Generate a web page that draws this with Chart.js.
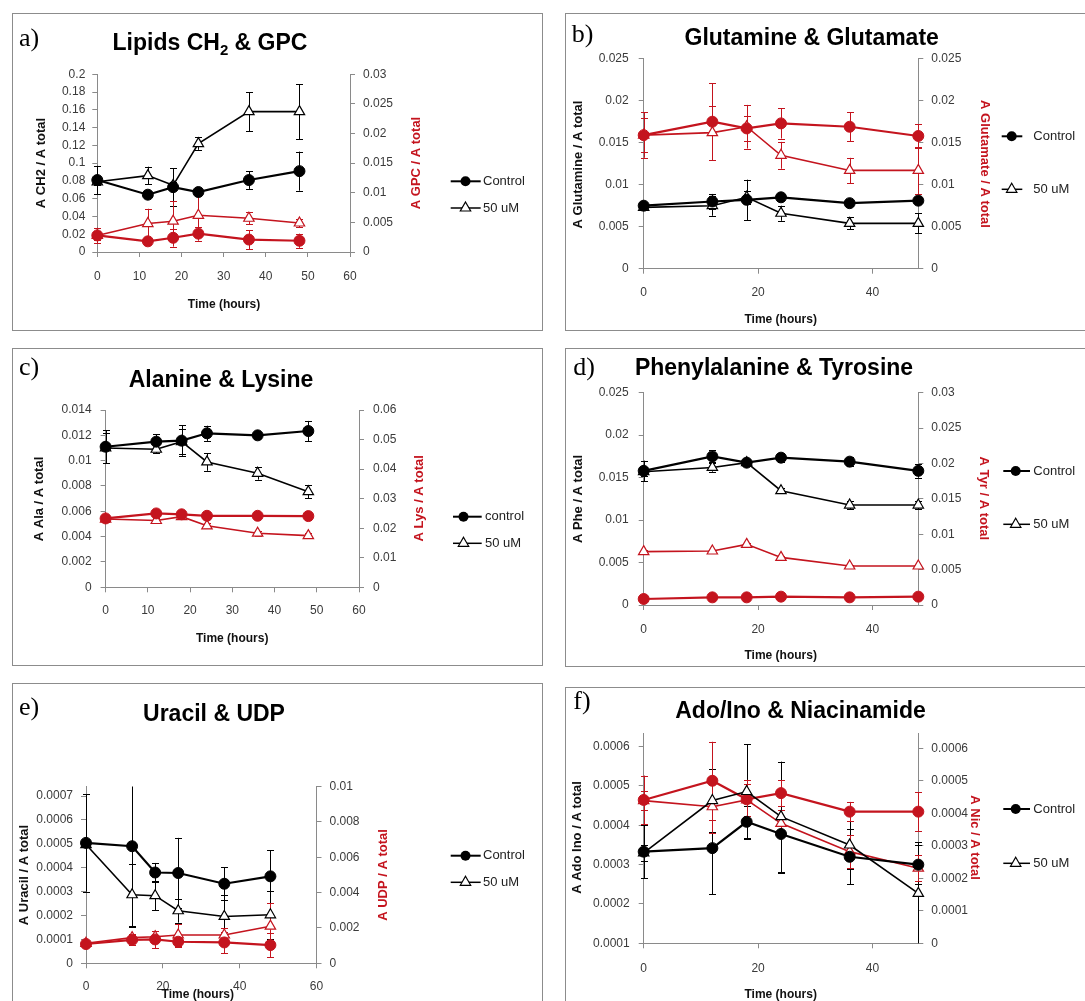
<!DOCTYPE html>
<html>
<head>
<meta charset="utf-8">
<script src="https://cdn.jsdelivr.net/npm/chart.js@4.4.1/dist/chart.umd.min.js"></script>
<style>
html,body{margin:0;padding:0;background:#fff;}
body{position:relative;width:1085px;height:1001px;overflow:hidden;}
.frame{position:absolute;box-sizing:border-box;border:1px solid #8c8c8c;}
canvas{position:absolute;}
</style>
</head>
<body>
<script>
// ================= DATA =================
const times = [0, 12, 18, 24, 36, 48];
const xTicksWide = [0, 10, 20, 30, 40, 50, 60];
const xTicksNarrow = [0, 20, 40];
const xTicksE = [0, 20, 40, 60];
const xTitle = 'Time (hours)';
const legendNames = ['Control', '50 uM'];
const legendNamesC = ['control', '50 uM'];

// a) Lipids CH2 & GPC
const titleA = ['Lipids CH', '2', ' & GPC'];
const yTitleA = 'A CH2 / A total';
const y2TitleA = 'A GPC / A total';
const xRangeA = [0, 60];
const yRangeA = [0, 0.2];
const y2RangeA = [0, 0.03];
const yTicksA = [0, 0.02, 0.04, 0.06, 0.08, 0.1, 0.12, 0.14, 0.16, 0.18, 0.2];
const y2TicksA = [0, 0.005, 0.01, 0.015, 0.02, 0.025, 0.03];
const ch2Control = [0.081, 0.0645, 0.073, 0.0675, 0.081, 0.091];
const ch2ControlErr = [0.016, 0.003, 0.021, 0.003, 0.010, 0.022];
const ch2Treated = [0.079, 0.086, 0.075, 0.122, 0.158, 0.158];
const ch2TreatedErr = [0.004, 0.010, 0.004, 0.007, 0.022, 0.031];
const gpcControl = [0.0028, 0.0018, 0.0024, 0.0031, 0.0021, 0.0019];
const gpcControlErr = [0.0013, 0.0004, 0.0015, 0.0012, 0.0016, 0.0012];
const gpcTreated = [0.0028, 0.0048, 0.0052, 0.0062, 0.0057, 0.0049];
const gpcTreatedErr = [0.0007, 0.0025, 0.0034, 0.0035, 0.0010, 0.0007];

// b) Glutamine & Glutamate
const titleB = ['Glutamine & Glutamate'];
const yTitleB = 'A Glutamine / A total';
const y2TitleB = 'A Glutamate / A total';
const xRangeB = [0, 48];
const yRangeB = [0, 0.025];
const y2RangeB = [0, 0.025];
const yTicksB = [0, 0.005, 0.01, 0.015, 0.02, 0.025];
const y2TicksB = [0, 0.005, 0.01, 0.015, 0.02, 0.025];
const glnControl = [0.0075, 0.0080, 0.0082, 0.0085, 0.0078, 0.0081];
const glnControlErr = [0.0003, 0.0009, 0.0024, 0.0003, 0.0003, 0.0004];
const glnTreated = [0.0073, 0.0075, 0.0085, 0.0066, 0.0054, 0.0054];
const glnTreatedErr = [0.0003, 0.0012, 0.0008, 0.0009, 0.0007, 0.0012];
const gluControl = [0.0159, 0.0175, 0.0167, 0.0173, 0.0169, 0.0158];
const gluControlErr = [0.0020, 0.0046, 0.0015, 0.0018, 0.0017, 0.0014];
const gluTreated = [0.0159, 0.0162, 0.0169, 0.0135, 0.0117, 0.0117];
const gluTreatedErr = [0.0027, 0.0032, 0.0026, 0.0016, 0.0015, 0.0028];

// c) Alanine & Lysine
const titleC = ['Alanine & Lysine'];
const yTitleC = 'A Ala / A total';
const y2TitleC = 'A Lys / A total';
const xRangeC = [0, 60];
const yRangeC = [0, 0.014];
const y2RangeC = [0, 0.06];
const yTicksC = [0, 0.002, 0.004, 0.006, 0.008, 0.01, 0.012, 0.014];
const y2TicksC = [0, 0.01, 0.02, 0.03, 0.04, 0.05, 0.06];
const alaControl = [0.0111, 0.0115, 0.01158, 0.01216, 0.0120, 0.01234];
const alaControlErr = [0.0013, 0.0006, 0.0012, 0.0006, 0.0002, 0.0008];
const alaTreated = [0.0110, 0.0109, 0.0115, 0.0099, 0.0090, 0.00755];
const alaTreatedErr = [0.0012, 0.0003, 0.0010, 0.0007, 0.0005, 0.0005];
const lysControl = [0.0233, 0.0250, 0.0247, 0.0242, 0.0242, 0.0241];
const lysControlErr = [0.0012, 0.0010, 0.0010, 0.0008, 0.0008, 0.0012];
const lysTreated = [0.0231, 0.0226, 0.0239, 0.0208, 0.0183, 0.0175];
const lysTreatedErr = [0.0010, 0.0010, 0.0008, 0.0008, 0.0008, 0.0008];

// d) Phenylalanine & Tyrosine
const titleD = ['Phenylalanine & Tyrosine'];
const yTitleD = 'A Phe / A total';
const y2TitleD = 'A Tyr / A total';
const xRangeD = [0, 48];
const yRangeD = [0, 0.025];
const y2RangeD = [0, 0.03];
const yTicksD = [0, 0.005, 0.01, 0.015, 0.02, 0.025];
const y2TicksD = [0, 0.005, 0.01, 0.015, 0.02, 0.025, 0.03];
const pheControl = [0.0158, 0.0175, 0.01676, 0.01735, 0.01688, 0.0158];
const pheControlErr = [0.0012, 0.0007, 0.0003, 0.0005, 0.0005, 0.0008];
const pheTreated = [0.0157, 0.0162, 0.01676, 0.01346, 0.01177, 0.01177];
const pheTreatedErr = [0.0005, 0.0005, 0.0003, 0.0003, 0.0005, 0.0005];
const tyrControl = [0.00085, 0.00108, 0.00108, 0.00118, 0.00108, 0.00118];
const tyrControlErr = [0.0001, 0.0001, 0.0001, 0.0001, 0.0001, 0.0001];
const tyrTreated = [0.00754, 0.00763, 0.00857, 0.00673, 0.00551, 0.00551];
const tyrTreatedErr = [0.0002, 0.0002, 0.0002, 0.0002, 0.0002, 0.0002];

// e) Uracil & UDP
const titleE = ['Uracil & UDP'];
const yTitleE = 'A Uracil / A total';
const y2TitleE = 'A UDP / A total';
const xRangeE = [0, 60];
const yRangeE = [0, 0.00074];
const y2RangeE = [0, 0.01];
const yTicksE = [0, 0.0001, 0.0002, 0.0003, 0.0004, 0.0005, 0.0006, 0.0007];
const y2TicksE = [0, 0.002, 0.004, 0.006, 0.008, 0.01];
const uraControl = [0.000504, 0.00049, 0.00038, 0.000378, 0.000333, 0.000364];
const uraControlErr = [0.000204, 0.00034, 0.00004, 0.000147, 0.00007, 0.00011];
const uraTreated = [0.000497, 0.000287, 0.000283, 0.00022, 0.000196, 0.000203];
const uraTreatedErr = [0.00001, 0.00013, 0.00006, 0.00005, 0.00009, 0.0001];
const udpControl = [0.00109, 0.00132, 0.00135, 0.00122, 0.00118, 0.00103];
const udpControlErr = [0.0001, 0.0003, 0.0005, 0.0003, 0.0006, 0.0007];
const udpTreated = [0.00113, 0.00145, 0.0015, 0.0016, 0.0016, 0.0021];
const udpTreatedErr = [0.0001, 0.0002, 0.0003, 0.0006, 0.0004, 0.0013];

// f) Ado/Ino & Niacinamide
const titleF = ['Ado/Ino & Niacinamide'];
const yTitleF = 'A Ado Ino / A total';
const y2TitleF = 'A Nic / A total';
const xRangeF = [0, 48];
const yRangeF = [0.0001, 0.000634];
const y2RangeF = [0, 0.000646];
const yTicksF = [0.0001, 0.0002, 0.0003, 0.0004, 0.0005, 0.0006];
const y2TicksF = [0, 0.0001, 0.0002, 0.0003, 0.0004, 0.0005, 0.0006];
const adoControl = [0.000333, 0.000342, 0.000409, 0.000378, 0.00032, 0.0003];
const adoControlErr = [0.000068, 0.000117, 0.00004, 0.0001, 0.00007, 0.00005];
const adoTreated = [0.00033, 0.000463, 0.000486, 0.000422, 0.00035, 0.000227];
const adoTreatedErr = [0.00002, 0.00008, 0.00012, 0.00014, 0.00006, 0.00013];
const nicControl = [0.000441, 0.0005, 0.000443, 0.000462, 0.000405, 0.000405];
const nicControlErr = [0.000075, 0.00012, 0.00006, 0.00004, 0.00003, 0.00006];
const nicTreated = [0.000439, 0.00042, 0.000441, 0.000369, 0.000282, 0.000231];
const nicTreatedErr = [0.00003, 0.00008, 0.00005, 0.00004, 0.00005, 0.00004];

// ================= STYLE / LAYOUT =================
const RED = 'rgb(196,20,30)';
const BLACK = '#000000';
const AXIS = '#8a8a8a';
const TICKCOL = '#3a3a3a';
const SANS = '"Liberation Sans", Arial, sans-serif';
const SERIF = '"Liberation Serif", "Times New Roman", serif';

// all coordinates are page pixels
const panels = [
  { letter: 'a)', title: titleA, yTitle: yTitleA, y2Title: y2TitleA, legend: legendNames,
    xRange: xRangeA, yRange: yRangeA, y2Range: y2RangeA, xTicks: xTicksWide, yTicks: yTicksA, y2Ticks: y2TicksA,
    left: [ch2Control, ch2ControlErr, ch2Treated, ch2TreatedErr],
    right: [gpcControl, gpcControlErr, gpcTreated, gpcTreatedErr],
    box: [12, 13, 531, 318], plot: [97.3, 350, 74.3, 252], pad: [7, 8, 12],
    pLetter: [19, 39.5], pTitle: [210, 44], pYT: [41, 163, -1], pY2T: [416, 163, -1], pXT: [224, 304.7],
    pLeg: { x1: 450.7, x2: 480.7, mx: 465.5, tx: 483, y: [181.3, 208] } },
  { letter: 'b)', title: titleB, yTitle: yTitleB, y2Title: y2TitleB, legend: legendNames,
    xRange: xRangeB, yRange: yRangeB, y2Range: y2RangeB, xTicks: xTicksNarrow, yTicks: yTicksB, y2Ticks: y2TicksB,
    left: [glnControl, glnControlErr, glnTreated, glnTreatedErr],
    right: [gluControl, gluControlErr, gluTreated, gluTreatedErr],
    box: [565, 13, 530, 318], plot: [643.7, 918.3, 58.7, 268.7], pad: [10, 8, 12],
    pLetter: [571.7, 35.3], pTitle: [811.7, 38.7], pYT: [578.3, 164.5, -1], pY2T: [984.3, 164, 1], pXT: [780.7, 319.3],
    pLeg: { x1: 1001.7, x2: 1022.3, mx: 1011.7, tx: 1033.3, y: [136.3, 189.3] } },
  { letter: 'c)', title: titleC, yTitle: yTitleC, y2Title: y2TitleC, legend: legendNamesC,
    xRange: xRangeC, yRange: yRangeC, y2Range: y2RangeC, xTicks: xTicksWide, yTicks: yTicksC, y2Ticks: y2TicksC,
    left: [alaControl, alaControlErr, alaTreated, alaTreatedErr],
    right: [lysControl, lysControlErr, lysTreated, lysTreatedErr],
    box: [12, 348, 531, 318], plot: [105.6, 359, 410, 587.3], pad: [9, 9, 11],
    pLetter: [19, 368.3], pTitle: [221, 381], pYT: [39.5, 499, -1], pY2T: [419, 498.3, -1], pXT: [232.2, 639],
    pLeg: { x1: 453, x2: 481.7, mx: 463.5, tx: 485, y: [516.7, 543.3] } },
  { letter: 'd)', title: titleD, yTitle: yTitleD, y2Title: y2TitleD, legend: legendNames,
    xRange: xRangeD, yRange: yRangeD, y2Range: y2RangeD, xTicks: xTicksNarrow, yTicks: yTicksD, y2Ticks: y2TicksD,
    left: [pheControl, pheControlErr, pheTreated, pheTreatedErr],
    right: [tyrControl, tyrControlErr, tyrTreated, tyrTreatedErr],
    box: [565, 348, 530, 319], plot: [643.7, 918.3, 392.7, 605], pad: [10, 8, 12],
    pLetter: [573.3, 368.3], pTitle: [774, 368.3], pYT: [578.3, 499, -1], pY2T: [983.3, 498.3, 1], pXT: [780.7, 655.7],
    pLeg: { x1: 1003.3, x2: 1030, mx: 1015.7, tx: 1033.3, y: [471, 524.3] } },
  { letter: 'e)', title: titleE, yTitle: yTitleE, y2Title: y2TitleE, legend: legendNames,
    xRange: xRangeE, yRange: yRangeE, y2Range: y2RangeE, xTicks: xTicksE, yTicks: yTicksE, y2Ticks: y2TicksE,
    left: [uraControl, uraControlErr, uraTreated, uraTreatedErr],
    right: [udpControl, udpControlErr, udpTreated, udpTreatedErr],
    box: [12, 683, 531, 330], plot: [86, 316.5, 786.5, 963.3], pad: [8, 8, 11],
    pLetter: [19, 708.3], pTitle: [214, 715], pYT: [24, 875, -1], pY2T: [383.6, 875, -1], pXT: [197.8, 995],
    pLeg: { x1: 450.7, x2: 480.7, mx: 465.5, tx: 483, y: [855.7, 882.3] } },
  { letter: 'f)', title: titleF, yTitle: yTitleF, y2Title: y2TitleF, legend: legendNames,
    xRange: xRangeF, yRange: yRangeF, y2Range: y2RangeF, xTicks: xTicksNarrow, yTicks: yTicksF, y2Ticks: y2TicksF,
    left: [adoControl, adoControlErr, adoTreated, adoTreatedErr],
    right: [nicControl, nicControlErr, nicTreated, nicTreatedErr],
    box: [565, 687, 530, 330], plot: [643.7, 918.3, 733.3, 943.3], pad: [9, 8, 13],
    pLetter: [573.3, 701.7], pTitle: [800.5, 711.7], pYT: [577.7, 837.5, -1], pY2T: [974.3, 837.5, 1], pXT: [780.7, 995],
    pLeg: { x1: 1003.3, x2: 1030, mx: 1015.7, tx: 1033.3, y: [809, 863.3] } }
];

// ================= DRAWING =================
const errorBarPlugin = {
  id: 'errorBars',
  beforeDatasetsDraw(chart) {
    const ctx = chart.ctx;
    const area = chart.chartArea;
    chart.data.datasets.forEach((ds) => {
      if (!ds.errors) return;
      const xs = chart.scales.x;
      const ys = chart.scales[ds.yAxisID];
      ctx.save();
      ctx.strokeStyle = ds.borderColor;
      ctx.lineWidth = 1;
      ds.data.forEach((p, i) => {
        const e = ds.errors[i];
        if (!e) return;
        const x = Math.round(xs.getPixelForValue(p.x)) + 0.5;
        let yt = ys.getPixelForValue(p.y + e);
        let yb = ys.getPixelForValue(p.y - e);
        const clipT = yt < area.top, clipB = yb > area.bottom;
        yt = Math.max(yt, area.top);
        yb = Math.min(yb, area.bottom);
        ctx.beginPath();
        ctx.moveTo(x, yt); ctx.lineTo(x, yb);
        if (!clipT) { ctx.moveTo(x - 3.5, Math.round(yt) + 0.5); ctx.lineTo(x + 3.5, Math.round(yt) + 0.5); }
        if (!clipB) { ctx.moveTo(x - 3.5, Math.round(yb) + 0.5); ctx.lineTo(x + 3.5, Math.round(yb) + 0.5); }
        ctx.stroke();
      });
      ctx.restore();
    });
  }
};

function drawTriangle(ctx, x, y, r) {
  let rad = 0;
  ctx.beginPath();
  ctx.moveTo(x + Math.sin(rad) * r, y - Math.cos(rad) * r);
  rad += Math.PI * 2 / 3;
  ctx.lineTo(x + Math.sin(rad) * r, y - Math.cos(rad) * r);
  rad += Math.PI * 2 / 3;
  ctx.lineTo(x + Math.sin(rad) * r, y - Math.cos(rad) * r);
  ctx.closePath();
}

function textPlugin(P) {
  return {
    id: 'panelText',
    afterDraw(chart) {
      const ctx = chart.ctx;
      const ox = P.box[0], oy = P.box[1];
      ctx.save();
      ctx.fillStyle = '#000';
      ctx.textBaseline = 'middle';
      // panel letter
      ctx.font = '26px ' + SERIF;
      ctx.textAlign = 'left';
      ctx.fillText(P.letter, P.pLetter[0] - ox, P.pLetter[1] - oy);
      // title (with optional subscript part)
      const bigFont = 'bold 23px ' + SANS, subFont = 'bold 15px ' + SANS;
      let total = 0;
      P.title.forEach((t, i) => { ctx.font = (i === 1) ? subFont : bigFont; total += ctx.measureText(t).width; });
      let cx = P.pTitle[0] - ox - total / 2;
      P.title.forEach((t, i) => {
        ctx.font = (i === 1) ? subFont : bigFont;
        ctx.fillText(t, cx, P.pTitle[1] - oy + (i === 1 ? 7 : 0));
        cx += ctx.measureText(t).width;
      });
      // axis titles
      ctx.font = 'bold 13px ' + SANS;
      ctx.textAlign = 'center';
      const rot = (txt, pos, color) => {
        ctx.save();
        ctx.fillStyle = color;
        ctx.translate(pos[0] - ox, pos[1] - oy);
        ctx.rotate(pos[2] * Math.PI / 2);
        ctx.fillText(txt, 0, 0);
        ctx.restore();
      };
      rot(P.yTitle, P.pYT, '#111');
      rot(P.y2Title, P.pY2T, RED);
      ctx.fillStyle = '#111';
      ctx.font = 'bold 12px ' + SANS;
      ctx.fillText(xTitle, P.pXT[0] - ox, P.pXT[1] - oy);
      // legend
      const L = P.pLeg;
      ctx.textAlign = 'left';
      ctx.font = '13px ' + SANS;
      L.y.forEach((yy, k) => {
        const y = yy - oy;
        ctx.strokeStyle = '#000';
        ctx.lineWidth = k === 0 ? 2 : 1.5;
        ctx.beginPath();
        ctx.moveTo(L.x1 - ox, y); ctx.lineTo(L.x2 - ox, y);
        ctx.stroke();
        if (k === 0) {
          ctx.fillStyle = '#000';
          ctx.beginPath();
          ctx.arc(L.mx - ox, y, 5, 0, Math.PI * 2);
          ctx.fill();
        } else {
          drawTriangle(ctx, L.mx - ox, y, 6);
          ctx.fillStyle = '#fff';
          ctx.fill();
          ctx.lineWidth = 1.2;
          ctx.stroke();
        }
        ctx.fillStyle = '#222';
        ctx.fillText(P.legend[k], L.tx - ox, y);
      });
      ctx.restore();
    }
  };
}

function series(vals, errs, axis, color, treated) {
  return {
    data: times.map((t, i) => ({ x: t, y: vals[i] })),
    errors: errs,
    yAxisID: axis,
    borderColor: color,
    backgroundColor: color,
    borderWidth: treated ? 1.6 : 2.2,
    pointStyle: treated ? 'triangle' : 'circle',
    pointRadius: treated ? 6 : 5.5,
    pointBackgroundColor: treated ? '#ffffff' : color,
    pointBorderColor: color,
    pointBorderWidth: treated ? 1.2 : 1,
    tension: 0,
    fill: false,
    clip: false
  };
}

const fmt = v => String(parseFloat(Number(v).toPrecision(8)));

function buildPanel(P) {
  const [bx, by, bw, bh] = P.box;
  const frame = document.createElement('div');
  frame.className = 'frame';
  Object.assign(frame.style, { left: bx + 'px', top: by + 'px', width: bw + 'px', height: bh + 'px' });
  const cv = document.createElement('canvas');
  cv.width = bw; cv.height = bh;
  Object.assign(cv.style, { left: bx + 'px', top: by + 'px', width: bw + 'px', height: bh + 'px' });
  document.body.appendChild(frame);
  document.body.appendChild(cv);

  const leftW = P.plot[0] - bx;
  const rightW = bx + bw - P.plot[1];
  const topPad = P.plot[2] - by;
  const botH = by + bh - P.plot[3];
  const setTicks = arr => scale => { scale.ticks = arr.map(v => ({ value: v })); };
  const tickFont = { family: SANS, size: 12 };
  const grid = { display: true, drawOnChartArea: false, drawTicks: true, tickLength: 5, color: AXIS, lineWidth: 1 };
  const border = { display: true, color: AXIS, width: 1 };

  new Chart(cv, {
    type: 'line',
    data: {
      datasets: [
        series(P.left[0], P.left[1], 'y', BLACK, false),
        series(P.left[2], P.left[3], 'y', BLACK, true),
        series(P.right[0], P.right[1], 'y1', RED, false),
        series(P.right[2], P.right[3], 'y1', RED, true)
      ]
    },
    options: {
      responsive: false,
      animation: false,
      events: [],
      layout: { padding: { top: topPad, left: 0, right: 0, bottom: 0 } },
      plugins: { legend: { display: false }, tooltip: { enabled: false }, title: { display: false } },
      scales: {
        x: {
          type: 'linear', position: 'bottom', min: P.xRange[0], max: P.xRange[1],
          afterBuildTicks: setTicks(P.xTicks),
          afterFit: s => { s.height = botH; },
          grid, border,
          ticks: { font: tickFont, color: TICKCOL, padding: P.pad[2], callback: fmt, autoSkip: false, maxRotation: 0 }
        },
        y: {
          type: 'linear', position: 'left', min: P.yRange[0], max: P.yRange[1],
          afterBuildTicks: setTicks(P.yTicks),
          afterFit: s => { s.width = leftW; },
          grid, border,
          ticks: { font: tickFont, color: TICKCOL, padding: P.pad[0], callback: fmt, autoSkip: false }
        },
        y1: {
          type: 'linear', position: 'right', min: P.y2Range[0], max: P.y2Range[1],
          afterBuildTicks: setTicks(P.y2Ticks),
          afterFit: s => { s.width = rightW; },
          grid, border,
          ticks: { font: tickFont, color: TICKCOL, padding: P.pad[1], callback: fmt, autoSkip: false }
        }
      }
    },
    plugins: [errorBarPlugin, textPlugin(P)]
  });
}

panels.forEach(buildPanel);
</script>
</body>
</html>
